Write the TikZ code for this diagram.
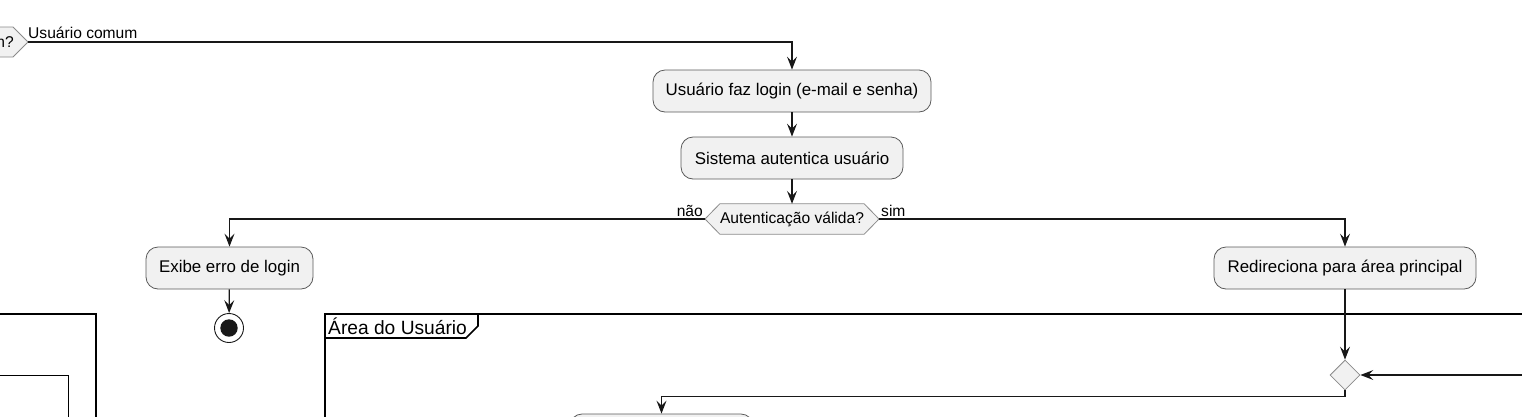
\documentclass[tikz,border=0pt]{standalone}
\usepackage{fontspec}
\setmainfont{Liberation Sans}
\usetikzlibrary{arrows.meta,calc,shapes.geometric,backgrounds}
\definecolor{boxfill}{HTML}{F1F1F1}
\definecolor{ln}{HTML}{181818}
\definecolor{bd}{HTML}{5A5A5A}
\definecolor{hexbd}{HTML}{8A8A8A}
\begin{document}
\begin{tikzpicture}[x=1pt,y=-1pt,
 act/.style={draw=bd, line width=0.8pt, fill=boxfill, rounded corners=12pt, minimum height=42pt, inner sep=0pt, font=\fontsize{16.9}{20}\selectfont, text=black},
 conn/.style={draw=ln, line width=1.2pt, -{Stealth[length=13pt,width=10pt,inset=5pt]}},
 lbl/.style={font=\fontsize{15.6}{18}\selectfont, inner sep=2pt, text=black},
 hexq/.style={draw=hexbd, line width=0.8pt, fill=boxfill},
 qtext/.style={font=\fontsize{15.6}{18}\selectfont, inner sep=0pt, minimum height=30pt, text=black},
 frame/.style={draw=black, line width=1.7pt},
 subframe/.style={draw=black, line width=1pt},
]
\useasboundingbox (0,0) rectangle (1522,416);
\clip (0,0) rectangle (1522,416);

% frames
\draw[frame] (-10,314) -- (96,314) -- (96,430);
\draw[subframe] (-10,375) -- (68,375) -- (68,430);
\draw[frame] (1540,314) -- (325,314) -- (325,430);
\draw[frame] (325,338) -- (466,338) -- (478,326) -- (478,314);
\node[font=\fontsize{19.2}{22}\selectfont, anchor=west, inner sep=0pt, text=black] (ftitle) at (328,326) {Área do Usuário};

% partial decision at the left edge
\coordinate (qR) at (28,42);
\draw[hexq] (-40,27) -- (13,27) -- (qR) -- (13,57) -- (-40,57) -- cycle;
\node[lbl, anchor=east, inner sep=0pt] (q) at (14,42) {n?};

% nodes
\node[act, minimum width=278pt] (login) at (792,91) {Usuário faz login (e-mail e senha)};
\node[act, minimum width=222pt] (sys) at (792,158) {Sistema autentica usuário};
\node[qtext, minimum width=144pt] (authq) at (792,219) {Autenticação válida?};
\coordinate (aL) at (705,219);
\coordinate (aR) at (879,219);
\begin{scope}[on background layer]
\draw[hexq] (aL) -- (authq.north west) -- (authq.north east) -- (aR) -- (authq.south east) -- (authq.south west) -- cycle;
\end{scope}
\node[act, minimum width=167pt] (err) at (229.5,268) {Exibe erro de login};
\node[act, minimum width=262pt] (redir) at (1345,268) {Redireciona para área principal};
\node[circle, draw=ln, line width=0.9pt, fill=white, minimum size=29pt, inner sep=0pt] (end) at (229,328) {};
\fill[ln] (end.center) circle (8.7pt);
\node[diamond, draw=hexbd, line width=0.8pt, fill=boxfill, minimum width=30pt, minimum height=30pt, inner sep=0pt] (merge) at (1345,375) {};
\node[act, minimum width=183pt] (next) at (661.5,435) {};
\coordinate (loopin) at (1540,375);

% connectors
\draw[conn] (qR) -| (login.north);
\node[lbl, anchor=south west, inner sep=0pt, yshift=3.5pt] (lc) at (qR) {Usuário comum};
\draw[conn] (login) -- (sys);
\draw[conn] (sys) -- (authq);
\draw[conn] (aL) -| (err.north);
\node[lbl, anchor=south east] (nao) at (aL) {não};
\draw[conn] (aR) -| (redir.north);
\node[lbl, anchor=south west] (sim) at (aR) {sim};
\draw[conn] (err) -- (end);
\draw[conn] (redir) -- (merge);
\draw[conn] (loopin) -- (merge.east);
\draw[conn] (merge.south) -- ++(0,6) -| (next.north);
\end{tikzpicture}
\end{document}
